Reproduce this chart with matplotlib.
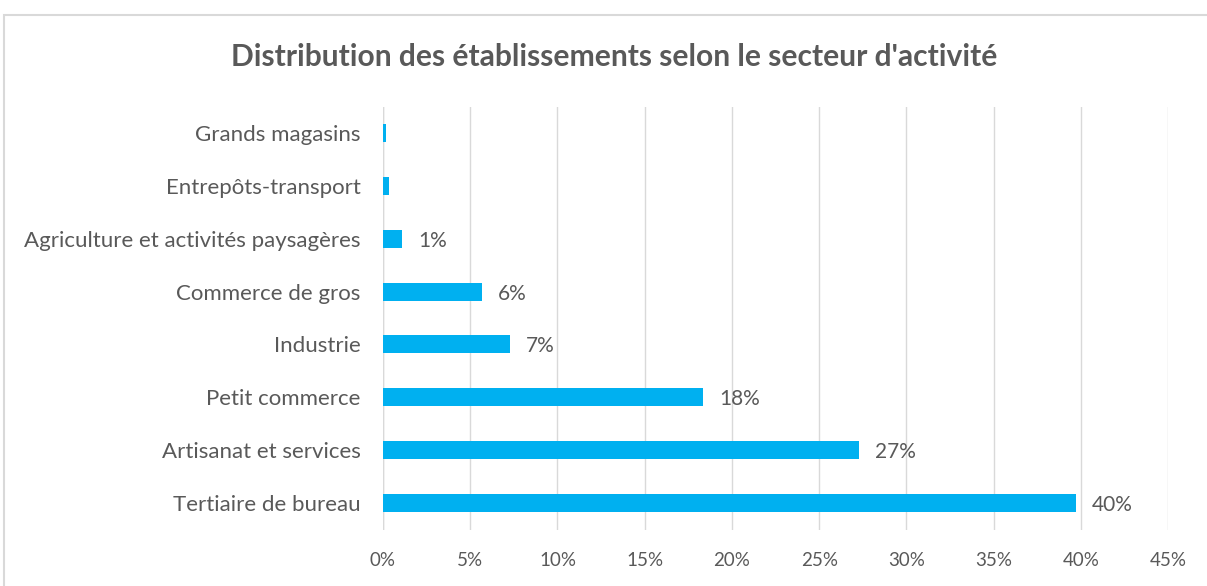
import matplotlib.pyplot as plt
from matplotlib.patches import Rectangle
from matplotlib.ticker import FuncFormatter

# Données (part des établissements)
secteurs = ['Tertiaire de bureau', 'Artisanat et services', 'Petit commerce', 'Industrie',
            'Commerce de gros', 'Agriculture et activités paysagères', 'Entrepôts-transport',
            'Grands magasins']
parts = [0.397, 0.273, 0.1835, 0.0726, 0.0566, 0.011, 0.0035, 0.002]
ticks_x = [0, 0.05, 0.10, 0.15, 0.20, 0.25, 0.30, 0.35, 0.40, 0.45]

plt.rcParams['font.family'] = ['Lato', 'DejaVu Sans']
gris = '#595959'
bleu = '#00b0f0'

fig = plt.figure(figsize=(12.07, 5.86), dpi=100)
# cadre du graphique
fig.patches.append(Rectangle((4 / 1207, -0.1), 1.2, 1 - 15 / 586 + 0.1, transform=fig.transFigure,
                             fill=False, edgecolor='#d9d9d9', linewidth=1.5))

ax = fig.add_axes([383 / 1207, 1 - 529.5 / 586, (1168 - 383) / 1207, (529.5 - 106.5) / 586])
y = range(len(secteurs))
ax.barh(y, parts, height=0.34, color=bleu, zorder=3)

for i, v in enumerate(parts):
    if round(v * 100) >= 1:
        ax.annotate(f'{round(v * 100):.0f}%', (v, i), xytext=(16, -2), textcoords='offset pixels',
                    va='center', ha='left', fontsize=15, color=gris)

ax.set_xlim(0, 0.45)
ax.set_ylim(-0.5, len(secteurs) - 0.5)
ax.set_xticks(ticks_x)
ax.xaxis.set_major_formatter(FuncFormatter(lambda v, p: f'{v * 100:.0f}%'))
ax.set_yticks(list(y))
ax.set_yticklabels(secteurs)
ax.tick_params(axis='both', length=0, colors=gris)
ax.tick_params(axis='y', pad=16, labelsize=16)
ax.tick_params(axis='x', pad=16, labelsize=13.5)
ax.grid(axis='x', color='#d9d9d9', linewidth=1, zorder=0)
for s in ax.spines.values():
    s.set_visible(False)
ax.axvline(0, color='#d9d9d9', linewidth=1, zorder=1)

fig.text(614 / 1207, 1 - 57 / 586, "Distribution des établissements selon le secteur d'activité",
         ha='center', va='center', fontsize=21.6, fontweight='bold', color=gris)

fig.savefig('out.png', dpi=100)
